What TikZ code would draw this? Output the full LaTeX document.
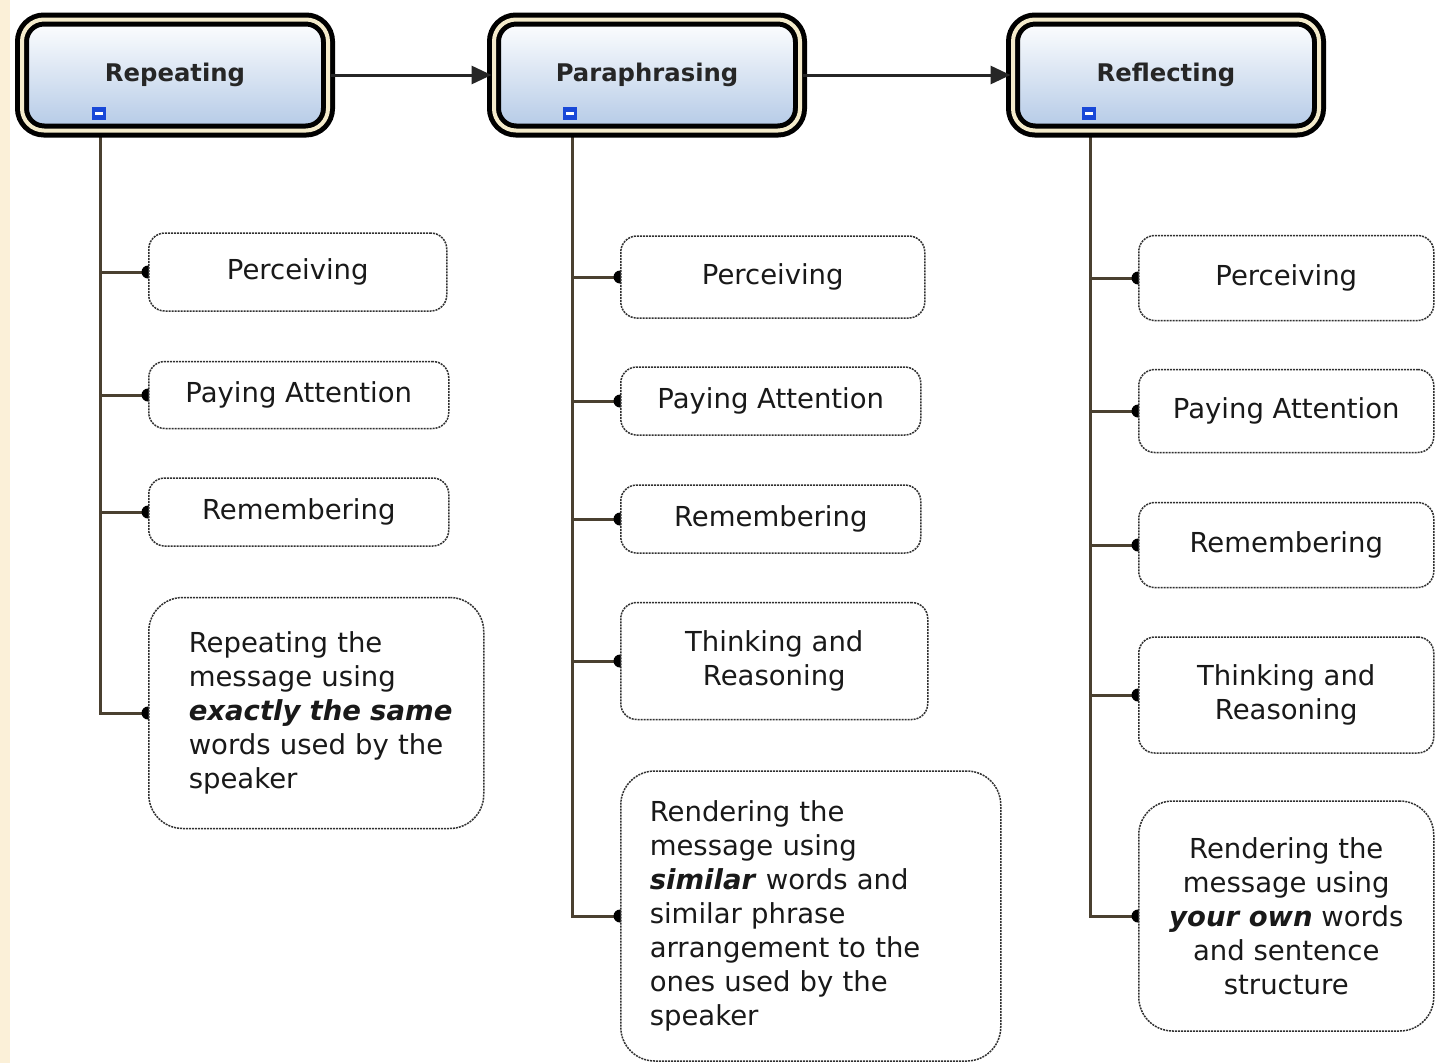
\documentclass[tikz,border=0pt]{standalone}
\usepackage{fontspec}
\setmainfont{DejaVu Sans}
\usetikzlibrary{arrows.meta,shadings}
\pgfdeclarelayer{back}
\pgfdeclarelayer{bg}
\pgfsetlayers{back,bg,main}
\definecolor{cream}{HTML}{F4EBCB}
\definecolor{strip}{HTML}{FBF0D8}
\definecolor{linkc}{HTML}{4A4030}
\definecolor{botblue}{HTML}{B3C9E6}
\definecolor{dashc}{HTML}{303030}
\definecolor{iconblue}{HTML}{1848D8}
\tikzset{
  mainbox/.style={rounded corners=22pt, minimum width=306pt, minimum height=111pt,
    top color=white, bottom color=botblue, draw=black, line width=5pt,
    double=cream, double distance=4pt, inner sep=0pt,
    font=\fontsize{24.3}{28}\selectfont\bfseries, text=black!85},
  child/.style={draw=dashc, line width=1.5pt, dash pattern=on 2pt off 1pt,
    fill=white, rounded corners=16pt, anchor=west, inner sep=0pt,
    font=\fontsize{27.5}{34}\selectfont, text=black!90},
  bigchild/.style={child, rounded corners=34pt},
  arrowln/.style={draw=black!85, line width=3pt, -{Triangle[length=20pt,width=18pt]}},
  linkln/.style={draw=linkc, line width=3pt},
  tipdot/.style={fill=black},
  icon/.style={fill=iconblue}
}
\begin{document}
\begin{tikzpicture}[x=1pt,y=-1pt]
\useasboundingbox (0,0) rectangle (1435,1063);
\begin{pgfonlayer}{back}
\fill[white] (0,0) rectangle (1435,1063);
\fill[strip] (0,0) rectangle (10,1063);
\end{pgfonlayer}

% main boxes
\node[mainbox] (r1) at (175,75) {Repeating};
\node[mainbox] (r2) at (647,75) {Paraphrasing};
\node[mainbox] (r3) at (1166,75) {Reflecting};

\draw[arrowln] (r1.east) -- (r2.west);
\draw[arrowln] (r2.east) -- (r3.west);

% icons
\foreach \ix in {99,570,1089}{
  \fill[icon] (\ix-7,107) rectangle (\ix+7,120);
  \fill[white] (\ix-4,112) rectangle (\ix+4,115);
}

\coordinate (t1) at (100,137);
\coordinate (t2) at (572,137);
\coordinate (t3) at (1090,137);

% column 1
\node[child, minimum width=298pt, minimum height=78pt] (c11) at (148,272) {Perceiving};
\node[child, minimum width=300pt, minimum height=67pt] (c12) at (148,395) {Paying Attention};
\node[child, minimum width=300pt, minimum height=68pt] (c13) at (148,512) {Remembering};
\node[bigchild, minimum width=335pt, minimum height=231pt, text width=255pt, align=left, inner xsep=40pt] (c14) at (148,713)
  {Repeating the\\message using\\\mbox{\textbf{\textit{exactly the same}}}\\words used by the\\speaker};

% column 2
\node[child, minimum width=304pt, minimum height=82pt] (c21) at (620,277) {Perceiving};
\node[child, minimum width=300pt, minimum height=68pt] (c22) at (620,401) {Paying Attention};
\node[child, minimum width=300pt, minimum height=68pt] (c23) at (620,519) {Remembering};
\node[child, minimum width=307pt, minimum height=117pt, align=center] (c24) at (620,661) {Thinking and\\Reasoning};
\node[bigchild, minimum width=380pt, minimum height=290pt, text width=322pt, align=left, inner xsep=29pt] (c25) at (620,916)
  {Rendering the\\message using\\\textbf{\textit{similar}} words and\\similar phrase\\arrangement to the\\ones used by the\\speaker};

% column 3
\node[child, minimum width=295pt, minimum height=85pt] (c31) at (1138,278) {Perceiving};
\node[child, minimum width=295pt, minimum height=83pt] (c32) at (1138,411) {Paying Attention};
\node[child, minimum width=295pt, minimum height=85pt] (c33) at (1138,545) {Remembering};
\node[child, minimum width=295pt, minimum height=116pt, align=center] (c34) at (1138,695) {Thinking and\\Reasoning};
\node[bigchild, minimum width=295pt, minimum height=230pt, align=center] (c35) at (1138,916)
  {Rendering the\\message using\\\textbf{\textit{your own}} words\\and sentence\\structure};

\begin{pgfonlayer}{bg}
  \foreach \c in {c11,c12,c13,c14}{
    \draw[linkln] (t1) |- (\c.west);
    \fill[tipdot] (\c.west) circle (6.5pt);
  }
  \foreach \c in {c21,c22,c23,c24,c25}{
    \draw[linkln] (t2) |- (\c.west);
    \fill[tipdot] (\c.west) circle (6.5pt);
  }
  \foreach \c in {c31,c32,c33,c34,c35}{
    \draw[linkln] (t3) |- (\c.west);
    \fill[tipdot] (\c.west) circle (6.5pt);
  }
\end{pgfonlayer}
\end{tikzpicture}
\end{document}
